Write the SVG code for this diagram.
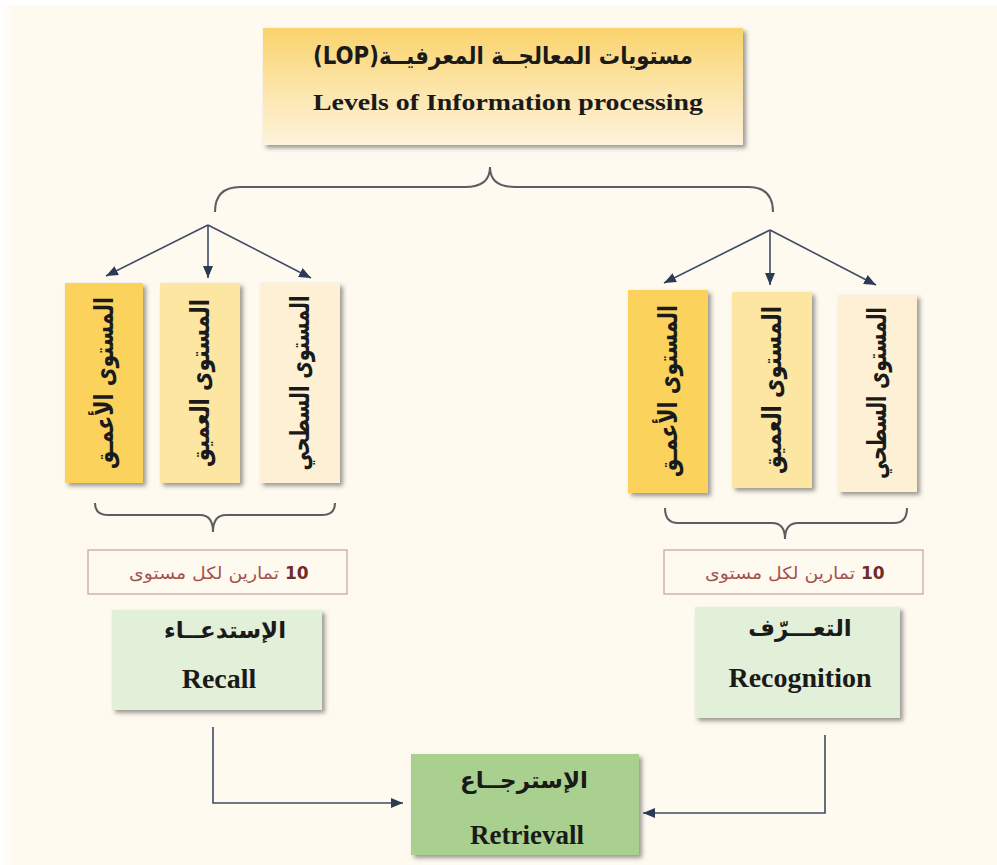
<svg xmlns="http://www.w3.org/2000/svg" width="997" height="865" viewBox="0 0 997 865">
  <defs>
    <linearGradient id="topFill" x1="0" y1="0" x2="0" y2="1">
      <stop offset="0" stop-color="#fad36c"/>
      <stop offset="0.55" stop-color="#fce6ad"/>
      <stop offset="1" stop-color="#fdf3dc"/>
    </linearGradient>
    <linearGradient id="edgeFade" x1="0" y1="0" x2="1" y2="0">
      <stop offset="0" stop-color="#ffffff"/>
      <stop offset="1" stop-color="#ffffff" stop-opacity="0"/>
    </linearGradient>
    <filter id="shadow" x="-10%" y="-10%" width="125%" height="130%">
      <feDropShadow dx="3" dy="3" stdDeviation="2" flood-color="#4a4a4a" flood-opacity="0.55"/>
    </filter>
    <marker id="head" viewBox="0 0 12 10" refX="12" refY="5" markerWidth="12" markerHeight="10" markerUnits="userSpaceOnUse" orient="auto">
      <path d="M0,0 L12,5 L0,10 Z" fill="#2d3a56"/>
    </marker>
  </defs>
  <style>
    .brace { fill: none; stroke: #5b5d62; stroke-width: 2; }
    .link { fill: none; stroke: #3f4b66; stroke-width: 1.6; marker-end: url(#head); }
    .en { font-family: "Liberation Serif", "Times New Roman", serif; font-weight: bold; fill: #1a1a1a; text-anchor: middle; }
    .ar { font-family: "DejaVu Sans", sans-serif; font-weight: bold; fill: #1a1a1a; text-anchor: middle; direction: rtl; }
    .col { filter: url(#shadow); }
    .green { fill: #e2efd9; filter: url(#shadow); }
    .note { fill: #fffaef; stroke: #c4a29c; stroke-width: 1.2; }
    .num { font-family: "DejaVu Sans", sans-serif; font-weight: bold; fill: #6e2c2c; font-size: 17px; }
    .notetxt { font-family: "DejaVu Sans", sans-serif; fill: #a4514d; font-size: 17px; text-anchor: middle; direction: rtl; }
  </style>

  <!-- page -->
  <rect x="0" y="0" width="997" height="865" fill="#ffffff"/>
  <rect x="0" y="5" width="997" height="860" fill="#fffaef"/>
  <rect x="0" y="5" width="14" height="860" fill="url(#edgeFade)"/>

  <!-- title -->
  <g id="title">
    <rect x="263" y="28" width="480" height="117" fill="url(#topFill)" filter="url(#shadow)"/>
    <text class="ar" x="503" y="64" font-size="24" textLength="380" lengthAdjust="spacingAndGlyphs">مستويات المعالجــة المعرفيــة(LOP)</text>
    <text class="en" x="508" y="110" font-size="24" textLength="390" lengthAdjust="spacingAndGlyphs">Levels of Information processing</text>
  </g>

  <!-- connectors -->
  <g id="connectors">
    <path class="brace" d="M215,212 Q215,187 240,187 L465,187 Q490,187 490,167 Q490,187 515,187 L748,187 Q773,187 773,212"/>
    <path class="link" d="M208,225 L106,276"/>
    <path class="link" d="M208,225 L208,278"/>
    <path class="link" d="M208,225 L311,278"/>
    <path class="link" d="M770,230 L664,283"/>
    <path class="link" d="M770,230 L770,285"/>
    <path class="link" d="M770,230 L876,285"/>
    <path class="brace" d="M95,503 Q95,515 108,515 L200,515 Q213,515 213,532 Q213,515 226,515 L322,515 Q335,515 335,503"/>
    <path class="brace" d="M665,508 Q665,523 678,523 L772,523 Q785,523 785,539 Q785,523 798,523 L894,523 Q907,523 907,508"/>
    <path class="link" d="M213,727 L213,803 L403,803"/>
    <path class="link" d="M825,735 L825,813 L643,813"/>
  </g>

  <!-- recall levels -->
  <g id="recall-deeper">
    <rect class="col" x="65" y="283" width="78" height="200" fill="#fbd35c"/>
    <text class="ar" transform="translate(104,383) rotate(-90)" dominant-baseline="central" font-size="26" textLength="172" lengthAdjust="spacingAndGlyphs">المستوى الأعمـق</text>
  </g>
  <g id="recall-deep">
    <rect class="col" x="160" y="283" width="80" height="200" fill="#fde6a2"/>
    <text class="ar" transform="translate(200,383) rotate(-90)" dominant-baseline="central" font-size="26" textLength="168" lengthAdjust="spacingAndGlyphs">المستوى العميق</text>
  </g>
  <g id="recall-surface">
    <rect class="col" x="260" y="283" width="80" height="200" fill="#fdf0d4"/>
    <text class="ar" transform="translate(300,383) rotate(-90)" dominant-baseline="central" font-size="26" textLength="175" lengthAdjust="spacingAndGlyphs">المستوى السطحي</text>
  </g>

  <!-- recognition levels -->
  <g id="recognition-deeper">
    <rect class="col" x="628" y="290" width="80" height="203" fill="#fbd35c"/>
    <text class="ar" transform="translate(668,391) rotate(-90)" dominant-baseline="central" font-size="26" textLength="172" lengthAdjust="spacingAndGlyphs">المستوى الأعمـق</text>
  </g>
  <g id="recognition-deep">
    <rect class="col" x="732" y="292" width="80" height="196" fill="#fde6a2"/>
    <text class="ar" transform="translate(772,390) rotate(-90)" dominant-baseline="central" font-size="26" textLength="168" lengthAdjust="spacingAndGlyphs">المستوى العميق</text>
  </g>
  <g id="recognition-surface">
    <rect class="col" x="838" y="295" width="79" height="197" fill="#fdf0d4"/>
    <text class="ar" transform="translate(877,393) rotate(-90)" dominant-baseline="central" font-size="26" textLength="172" lengthAdjust="spacingAndGlyphs">المستوى السطحي</text>
  </g>

  <!-- exercise counts -->
  <g id="recall-count">
    <rect class="note" x="88" y="550" width="259" height="44"/>
    <text class="num" x="285" y="579">10</text>
    <text class="notetxt" x="204" y="579" textLength="150" lengthAdjust="spacingAndGlyphs">تمارين لكل مستوى</text>
  </g>
  <g id="recognition-count">
    <rect class="note" x="664" y="550" width="259" height="44"/>
    <text class="num" x="861" y="579">10</text>
    <text class="notetxt" x="780" y="579" textLength="150" lengthAdjust="spacingAndGlyphs">تمارين لكل مستوى</text>
  </g>

  <!-- memory tasks -->
  <g id="recall">
    <rect class="green" x="112" y="610" width="210" height="100"/>
    <text class="ar" x="225" y="638" font-size="23">الإستدعــاء</text>
    <text class="en" x="219" y="688" font-size="28">Recall</text>
  </g>
  <g id="recognition">
    <rect class="green" x="695" y="607" width="205" height="111"/>
    <text class="ar" x="800" y="636" font-size="23">التعـــرّف</text>
    <text class="en" x="800" y="687" font-size="28">Recognition</text>
  </g>
  <g id="retrieval">
    <rect x="411" y="754" width="228" height="101" fill="#a9d08e" filter="url(#shadow)"/>
    <text class="ar" x="524" y="788" font-size="23">الإسترجــاع</text>
    <text class="en" x="527" y="844" font-size="27">Retrievall</text>
  </g>
</svg>
